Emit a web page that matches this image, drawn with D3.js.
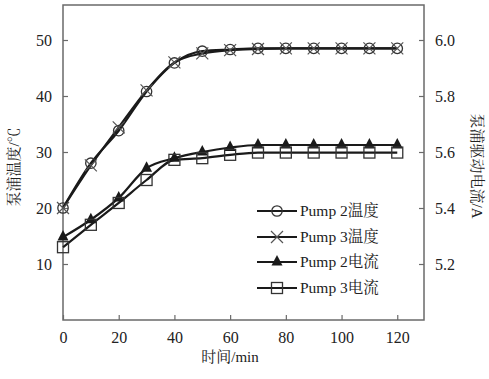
<!DOCTYPE html>
<html><head><meta charset="utf-8">
<script src="https://cdn.jsdelivr.net/npm/d3@7"></script>
<style>body{margin:0;background:#fff}</style>
</head><body><svg id="c" width="489" height="379"></svg>
<script>
const time = [0,10,20,30,40,50,60,70,80,90,100,110,120];
const pump2Temp = [20,28,33.8,40.8,45.9,48,48.3,48.5,48.5,48.5,48.5,48.5,48.5];
const pump3Temp = [20,27.6,34.4,41,46,47.6,48.2,48.4,48.5,48.5,48.5,48.5,48.5];
const pump2Curr = [5.296,5.358,5.436,5.542,5.578,5.6,5.616,5.625,5.625,5.625,5.625,5.625,5.625];
const pump3Curr = [5.26,5.34,5.418,5.5,5.572,5.578,5.59,5.598,5.598,5.598,5.598,5.598,5.598];
const xTicks = [0,20,40,60,80,100,120];
const yLeftTicks = [10,20,30,40,50];
const yRightTicks = [5.2,5.4,5.6,5.8,6.0];
const legendLabels = ["Pump 2温度","Pump 3温度","Pump 2电流","Pump 3电流"];

const FONT = '"Liberation Serif","Times New Roman","Noto Serif CJK SC","Noto Sans CJK SC",serif';
const svg = d3.select("#c");
const L=63,R=424,T=5,B=320;
const x = d3.scaleLinear().domain([0,129.6]).range([L,R]);
const yL = d3.scaleLinear().domain([0,56.25]).range([B,T]);
const yR = d3.scaleLinear().domain([5.0,6.125]).range([B,T]);

svg.append("rect").attr("x",L).attr("y",T).attr("width",R-L).attr("height",B-T)
  .attr("fill","none").attr("stroke","#6a6a6a").attr("stroke-width",1.5);

const gx = svg.append("g").attr("transform",`translate(0,${B})`)
  .call(d3.axisBottom(x).tickValues(xTicks).tickSize(-5).tickPadding(12).tickFormat(d3.format("d")));
const gl = svg.append("g").attr("transform",`translate(${L},0)`)
  .call(d3.axisLeft(yL).tickValues(yLeftTicks).tickSize(-5).tickPadding(11).tickFormat(d3.format("d")));
const gr = svg.append("g").attr("transform",`translate(${R},0)`)
  .call(d3.axisRight(yR).tickValues(yRightTicks).tickSize(-5).tickPadding(11).tickFormat(d3.format(".1f")));
[gx,gl,gr].forEach(g=>{
  g.attr("font-family",FONT).attr("font-size",16);
  g.select(".domain").remove();
  g.selectAll(".tick line").attr("stroke","#6a6a6a").attr("stroke-width",1.2);
  g.selectAll(".tick text").attr("fill","#222");
});

const titles = svg.append("g").attr("font-family",FONT).attr("font-size",15).attr("fill","#222");
titles.append("text").attr("x",230).attr("y",362).attr("text-anchor","middle").text("时间/min");
titles.append("text").attr("transform","translate(19,167) rotate(-90)").attr("text-anchor","middle").text("泵浦温度/℃");
titles.append("text").attr("transform","translate(472,166) rotate(90)").attr("text-anchor","middle").text("泵浦驱动电流/A");

const series = [
  {v:pump2Temp, y:yL, m:"circle"},
  {v:pump3Temp, y:yL, m:"cross"},
  {v:pump2Curr, y:yR, m:"tri"},
  {v:pump3Curr, y:yR, m:"square"}
];
function marker(g,type,cx,cy){
  if(type==="circle") g.append("circle").attr("cx",cx).attr("cy",cy).attr("r",5.2)
    .attr("fill","none").attr("stroke","#333").attr("stroke-width",1.3);
  else if(type==="cross") g.append("path").attr("d",`M${cx-6},${cy-6}L${cx+6},${cy+6}M${cx-6},${cy+6}L${cx+6},${cy-6}`)
    .attr("stroke","#555").attr("stroke-width",1.2);
  else if(type==="tri") g.append("path").attr("d",`M${cx},${cy-7}L${cx+5.5},${cy+3.5}L${cx-5.5},${cy+3.5}Z`)
    .attr("fill","#1a1a1a");
  else g.append("rect").attr("x",cx-5.5).attr("y",cy-5.5).attr("width",11).attr("height",11)
    .attr("fill","none").attr("stroke","#333").attr("stroke-width",1.3);
}
series.forEach(s=>{
  const line = d3.line().x((d,i)=>x(time[i])).y(d=>s.y(d)).curve(d3.curveMonotoneX);
  svg.append("path").datum(s.v).attr("d",line).attr("fill","none")
    .attr("stroke","#1a1a1a").attr("stroke-width",2.2);
});
series.forEach(s=>{
  const g = svg.append("g");
  s.v.forEach((d,i)=>marker(g,s.m,x(time[i]),s.y(d)));
});

const ly = [211,237,262,288];
series.forEach((s,i)=>{
  const g = svg.append("g");
  g.append("line").attr("x1",257).attr("x2",297).attr("y1",ly[i]).attr("y2",ly[i])
    .attr("stroke","#1a1a1a").attr("stroke-width",2.2);
  marker(g,s.m,277,ly[i]);
  g.append("text").attr("x",300).attr("y",ly[i]+5).attr("font-size",15.5)
    .attr("font-family",FONT).attr("fill","#222").text(legendLabels[i]);
});
</script></body></html>
